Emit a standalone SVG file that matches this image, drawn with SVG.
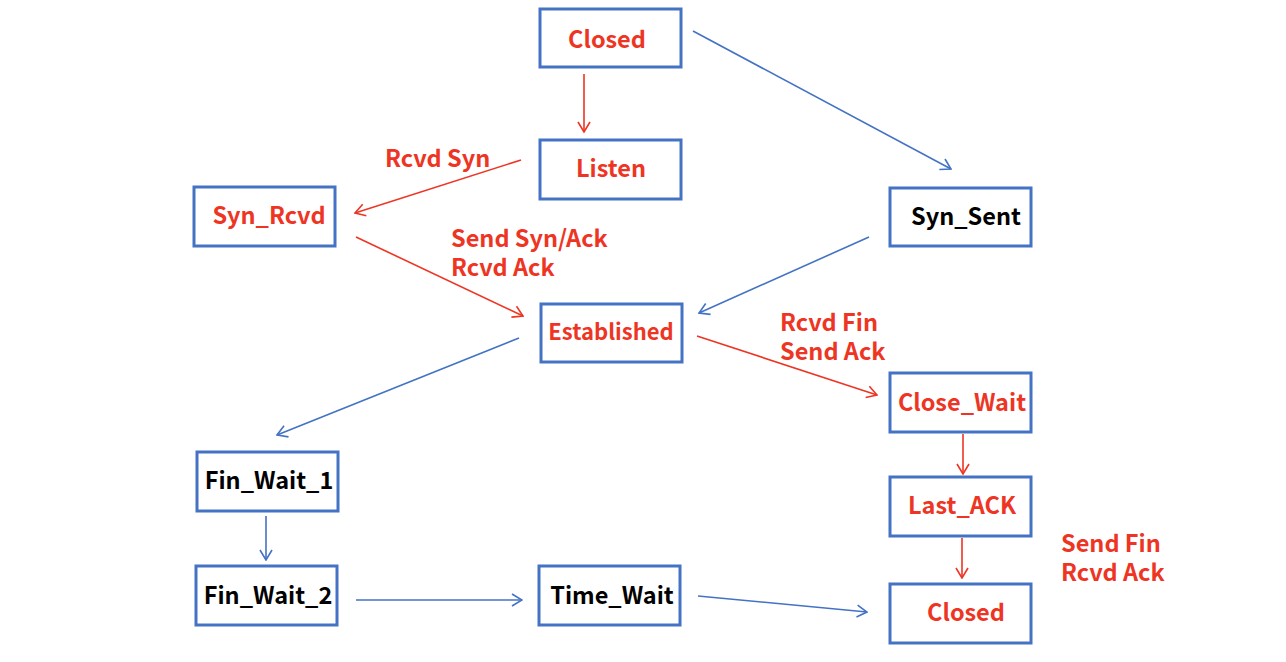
<svg xmlns="http://www.w3.org/2000/svg" width="1286" height="662" viewBox="0 0 1286 662">
<style>
.box{fill:#fff;stroke:#4472C4;stroke-width:3}
.t{font-family:"Noto Sans CJK SC","Noto Sans",sans-serif;font-weight:bold;font-size:23.5px;text-anchor:middle}
.r{fill:#EE3524}
.k{fill:#000}
.lbl{font-family:"Noto Sans CJK SC","Noto Sans",sans-serif;font-weight:bold;font-size:23.5px;fill:#EE3524}
.cb{stroke:#4472C4;stroke-width:1.6;fill:none;marker-end:url(#ab)}
.cr{stroke:#EE3524;stroke-width:1.6;fill:none;marker-end:url(#ar)}
</style>
<defs>
<marker id="ab" viewBox="0 0 12 14" refX="11" refY="7" markerWidth="12" markerHeight="14" markerUnits="userSpaceOnUse" orient="auto"><path d="M1,1 L11,7 L1,13" fill="none" stroke="#4472C4" stroke-width="1.6"/></marker>
<marker id="ar" viewBox="0 0 12 14" refX="11" refY="7" markerWidth="12" markerHeight="14" markerUnits="userSpaceOnUse" orient="auto"><path d="M1,1 L11,7 L1,13" fill="none" stroke="#EE3524" stroke-width="1.6"/></marker>
</defs>
<rect width="1286" height="662" fill="#fff"/>
<g id="connectors">
<line class="cr" x1="584" y1="74" x2="584" y2="132"/>
<line class="cb" x1="693" y1="31" x2="951" y2="169"/>
<line class="cr" x1="521" y1="160" x2="355" y2="213"/>
<line class="cr" x1="356" y1="237" x2="523" y2="316"/>
<line class="cb" x1="869" y1="237" x2="699" y2="313"/>
<line class="cr" x1="697" y1="336" x2="877" y2="395"/>
<line class="cb" x1="519" y1="338" x2="277" y2="435"/>
<line class="cb" x1="266" y1="516" x2="266" y2="560"/>
<line class="cb" x1="356" y1="600" x2="522" y2="600"/>
<line class="cb" x1="698" y1="596" x2="867" y2="612"/>
<line class="cr" x1="963" y1="434" x2="963" y2="474"/>
<line class="cr" x1="962" y1="538" x2="962" y2="578"/>
</g>
<g id="labels">
<text class="lbl" x="385" y="167">Rcvd Syn</text>
<text class="lbl" x="451" y="247">Send Syn/Ack</text>
<text class="lbl" x="451" y="276">Rcvd Ack</text>
<text class="lbl" x="780" y="331">Rcvd Fin</text>
<text class="lbl" x="780" y="360">Send Ack</text>
<text class="lbl" x="1061" y="552">Send Fin</text>
<text class="lbl" x="1061" y="581">Rcvd Ack</text>
</g>
<g id="closed-top"><rect class="box" x="540" y="9" width="141" height="58"/><text class="t r" x="607" y="48">Closed</text></g>
<g id="listen"><rect class="box" x="540" y="140" width="141" height="59"/><text class="t r" x="611" y="177">Listen</text></g>
<g id="syn-rcvd"><rect class="box" x="194" y="187" width="141" height="59"/><text class="t r" x="269" y="224">Syn_Rcvd</text></g>
<g id="syn-sent"><rect class="box" x="890" y="188" width="141" height="58"/><text class="t k" x="966" y="225">Syn_Sent</text></g>
<g id="established"><rect class="box" x="541" y="304" width="141" height="58"/><text class="t r" x="611" y="340" style="font-size:22px">Established</text></g>
<g id="close-wait"><rect class="box" x="890" y="373" width="141" height="59"/><text class="t r" x="962" y="411">Close_Wait</text></g>
<g id="fin-wait-1"><rect class="box" x="197" y="452" width="141" height="59"/><text class="t k" x="269" y="489">Fin_Wait_1</text></g>
<g id="last-ack"><rect class="box" x="890" y="477" width="141" height="59"/><text class="t r" x="962" y="514">Last_ACK</text></g>
<g id="fin-wait-2"><rect class="box" x="196" y="566" width="141" height="59"/><text class="t k" x="268" y="604">Fin_Wait_2</text></g>
<g id="time-wait"><rect class="box" x="539" y="566" width="141" height="59"/><text class="t k" x="612" y="604">Time_Wait</text></g>
<g id="closed-bottom"><rect class="box" x="890" y="584" width="141" height="59"/><text class="t r" x="966" y="621">Closed</text></g>
</svg>
